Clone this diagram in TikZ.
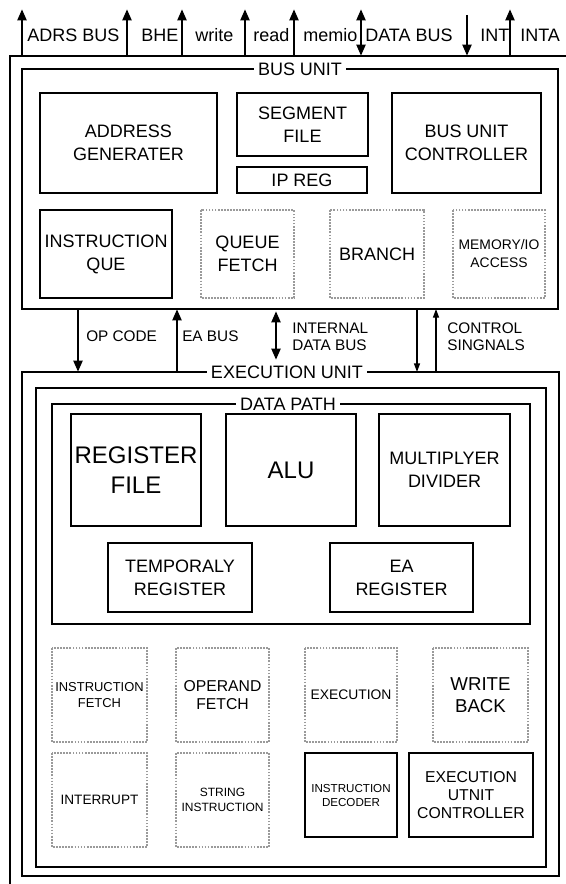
\documentclass[tikz,border=0pt]{standalone}
\usepackage{fontspec}
\setmainfont{Liberation Sans}
\usetikzlibrary{arrows.meta, positioning, calc}

\begin{document}
\begin{tikzpicture}[x=0.75pt, y=-0.75pt,
  caixa/.style={draw=linha, line width=2.2pt},
  caixapont/.style={draw=pontilhado, line width=1.3pt, densely dotted},
  txt/.style={align=center, inner sep=0pt, text=linha, font=\fontsize{13.5}{17.2}\selectfont},
  rotulo/.style={fill=white, inner xsep=3pt, inner ysep=1pt, text=linha, font=\fontsize{13.5}{15}\selectfont},
  sinal/.style={anchor=base west, inner sep=0pt, font=\fontsize{13.5}{15}\selectfont},
  legenda/.style={anchor=west, align=left, inner sep=0pt, font=\fontsize{11.5}{12.5}\selectfont},
  seta/.style={line width=2.2pt, -{Triangle[length=8.5pt,width=6.5pt]}},
  setadupla/.style={line width=2.2pt, {Triangle[length=8.5pt,width=6.5pt]}-{Triangle[length=8.5pt,width=6.5pt]}},
  setafina/.style={line width=1pt, -{Triangle[length=6.5pt,width=4.5pt]}}]
% --- CORES ---
\definecolor{linha}{HTML}{000000}
\definecolor{pontilhado}{HTML}{9A9A9A}
\useasboundingbox (0,0) rectangle (566,884);

% LAYER 1: Moldura externa e sinais do barramento
\draw[caixa] (575,56) -- (10,56) -- (10,890);
\foreach \nome/\xs in {adrs/22, bhe/127, wr/182, rd/245, mio/294, dbus/361, int/467, inta/510}{
  \coordinate (\nome-b) at (\xs,56);
  \coordinate (\nome-t) at (\xs,9);
}
\foreach \nome in {adrs, bhe, wr, rd, mio, inta}
  \draw[seta] (\nome-b) -- (\nome-t);
\draw[setadupla] (dbus-t) -- (dbus-b);
\coordinate (int-t) at (467,15);
\draw[seta] (int-t) -- (int-b);
\foreach \nome/\xt/\txt in {adrs/27/ADRS BUS, bhe/141/BHE, wr/195/write, rd/253/read, mio/303/memio, dbus/365/DATA BUS, int/480/INT, inta/520/INTA}
  \node[sinal] (l-\nome) at (\xt,41.5) {\txt};

% LAYER 2: Bus unit
\draw[caixa] (22,69) rectangle (558,309);
\node[rotulo] (busunit) at (300,69) {BUS UNIT};
\draw[caixa] (40,93) rectangle (217,193) node[pos=.5, txt] (addrgen) {ADDRESS\\GENERATER};
\draw[caixa] (237,93) rectangle (368,156) node[pos=.5, txt] (segfile) {SEGMENT\\FILE};
\draw[caixa] (237,167) rectangle (367,193) node[pos=.5, txt] (ipreg) {IP REG};
\draw[caixa] (392,93) rectangle (541,193) node[pos=.5, txt] (buc) {BUS UNIT\\CONTROLLER};
\draw[caixa] (40,210) rectangle (172,298) node[pos=.5, txt] (insque) {INSTRUCTION\\QUE};
\draw[caixapont] (201,210) rectangle (294,298) node[pos=.5, txt] (qfetch) {QUEUE\\FETCH};
\draw[caixapont] (330,210) rectangle (424,298) node[pos=.5, txt] (branch) {BRANCH};
\draw[caixapont] (453,210) rectangle (545,298) node[pos=.5, txt, font=\fontsize{10.4}{13.5}\selectfont] (memio) {MEMORY/IO\\ACCESS};

% LAYER 3: Ligacoes entre as unidades
\foreach \nome/\xs in {op/78, ea/177, cd/417, cu/436}{
  \coordinate (\nome-1) at (\xs,309);
  \coordinate (\nome-2) at (\xs,372);
}
\coordinate (idb-1) at (276,311);
\coordinate (idb-2) at (276,360);
\draw[seta] (op-1) -- (op-2);
\draw[seta] (ea-2) -- (ea-1);
\draw[setadupla] (idb-1) -- (idb-2);
\draw[setafina] (cd-1) -- (cd-2);
\draw[setafina] (cu-2) -- (cu-1);
\node[legenda] (l-op) at (86,336) {OP CODE};
\node[legenda] (l-ea) at (182,336) {EA BUS};
\node[legenda] (l-idb) at (292,337) {INTERNAL\\DATA BUS};
\node[legenda] (l-ctl) at (447,337) {CONTROL\\SINGNALS};

% LAYER 4: Execution unit e data path
\draw[caixa] (22,372) rectangle (559,876);
\node[rotulo] (execunit) at (287,372) {EXECUTION UNIT};
\draw[caixa] (36,388) rectangle (546,867);
\draw[caixa] (52,404) rectangle (530,624);
\node[rotulo] (datapath) at (288,404) {DATA PATH};
\draw[caixa] (71,414) rectangle (201,526) node[pos=.5, txt, font=\fontsize{18}{22}\selectfont] (regfile) {REGISTER\\FILE};
\draw[caixa] (226,414) rectangle (356,526) node[pos=.5, txt, font=\fontsize{18}{22}\selectfont] (alu) {ALU};
\draw[caixa] (379,414) rectangle (510,526) node[pos=.5, txt] (muldiv) {MULTIPLYER\\DIVIDER};
\draw[caixa] (108,543) rectangle (252,612) node[pos=.5, txt] (tempreg) {TEMPORALY\\REGISTER};
\draw[caixa] (330,543) rectangle (473,612) node[pos=.5, txt] (eareg) {EA\\REGISTER};

% LAYER 5: Estagios do pipeline
\draw[caixapont] (52,648) rectangle (147,742) node[pos=.5, txt, font=\fontsize{9.7}{11.5}\selectfont] (ifetch) {INSTRUCTION\\FETCH};
\draw[caixapont] (176,648) rectangle (269,742) node[pos=.5, txt, font=\fontsize{11.8}{13.5}\selectfont] (ofetch) {OPERAND\\FETCH};
\draw[caixapont] (305,648) rectangle (397,742) node[pos=.5, txt, font=\fontsize{10.4}{12}\selectfont] (exec) {EXECUTION};
\draw[caixapont] (433,648) rectangle (528,742) node[pos=.5, txt, font=\fontsize{14}{17}\selectfont] (wback) {WRITE\\BACK};
\draw[caixapont] (52,753) rectangle (147,847) node[pos=.5, txt, font=\fontsize{10.2}{12}\selectfont] (intr) {INTERRUPT};
\draw[caixapont] (176,753) rectangle (269,847) node[pos=.5, txt, font=\fontsize{9}{11}\selectfont] (strins) {STRING\\INSTRUCTION};
\draw[caixa] (305,753) rectangle (397,837) node[pos=.5, txt, font=\fontsize{8.7}{10.5}\selectfont] (idec) {INSTRUCTION\\DECODER};
\draw[caixa] (409,753) rectangle (533,837) node[pos=.5, txt, font=\fontsize{11.8}{13.5}\selectfont] (euc) {EXECUTION\\UTNIT\\CONTROLLER};
\end{tikzpicture}
\end{document}
